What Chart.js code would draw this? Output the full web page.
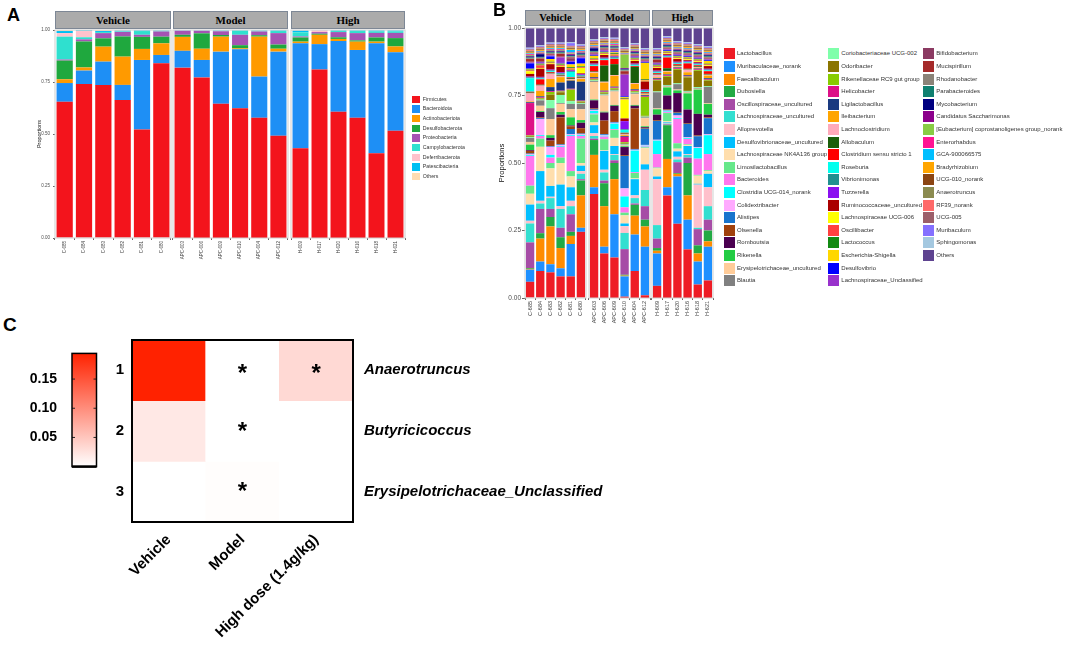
<!DOCTYPE html>
<html>
<head>
<meta charset="utf-8">
<script src="https://cdn.jsdelivr.net/npm/chart.js@4.4.1/dist/chart.umd.min.js"></script>
<style>
  body { margin: 0; background: #fff; }
  #fig { position: relative; width: 1065px; height: 646px; overflow: hidden; font-family: "Liberation Sans", Arial, sans-serif; }
  .box { position: absolute; }
  .strip { position: absolute; background: #ababab; border: 1px solid #7d8795; box-sizing: border-box;
           font-family: "Liberation Serif", serif; font-weight: bold; text-align: center; color: #000; }
  .letter { position: absolute; font-weight: bold; font-size: 18px; color: #000; }
  .leg { position: absolute; white-space: nowrap; color: #333; }
  .sw { position: absolute; }
</style>
</head>
<body>
<div id="fig"></div>
<script>
// ---------- shared sample labels ----------
const groups = ['Vehicle', 'Model', 'High'];
const samples = ['C-685', 'C-684', 'C-683', 'C-682', 'C-681', 'C-680',
                 'APC-603', 'APC-606', 'APC-609', 'APC-610', 'APC-604', 'APC-612',
                 'H-609', 'H-617', 'H-620', 'H-616', 'H-618', 'H-621'];
const yTicks = [0, 0.25, 0.5, 0.75, 1];

// ---------- panel A: phylum proportions ----------
const phyla = ['Firmicutes', 'Bacteroidota', 'Actinobacteriota', 'Desulfobacterota', 'Proteobacteria',
               'Campylobacterota', 'Deferribacterota', 'Patescibacteria', 'Others'];
const phylaColors = ['#f3141c', '#1e8ff5', '#ff9a00', '#1fa83e', '#a553b3', '#2fe0cf', '#ffc2cc', '#00bff2', '#ffdcb2'];
const firmicutes       = [.655, .74, .735, .663, .522, .84, .819, .772, .646, .624, .578, .492, .431, .81, .607, .578, .407, .516];
const bacteroidota     = [.09, .065, .113, .073, .334, .04, .081, .084, .25, .283, .198, .404, .505, .122, .34, .326, .529, .377];
const actinobacteriota = [.018, .015, .072, .136, .053, .056, .067, .054, .072, .005, .192, .014, .008, .045, .01, .04, .008, .028];
const desulfobacterota = [.09, .125, .04, .097, .058, .032, .01, .074, .008, .015, .007, .02, .02, .005, .008, .006, .02, .04];
const proteobacteria   = [.005, .01, .025, .022, .01, .025, .02, .013, .018, .05, .018, .055, .005, .008, .025, .035, .022, .025];
const campylobacterota = [.11, .01, .005, .003, .018, .003, 0, .001, .002, .02, .003, .01, .02, 0, .005, .01, .008, .008];
const deferribacterota = [.017, .03, 0, 0, 0, 0, 0, 0, 0, 0, 0, 0, 0, .008, 0, 0, 0, 0];
const patescibacteria  = [.01, .003, .005, .003, .003, .002, .002, .001, .002, .002, .002, .003, .008, .001, .003, .003, .004, .004];
const othersPhylum     = [.005, .002, .005, .003, .002, .002, .001, .001, .002, .001, .002, .002, .003, .001, .002, .002, .002, .002];
const phylaValues = [firmicutes, bacteroidota, actinobacteriota, desulfobacterota, proteobacteria,
                     campylobacterota, deferribacterota, patescibacteria, othersPhylum];

// ---------- panel B: genus proportions ----------
const genera = ['Lactobacillus', 'Muribaculaceae_norank', 'Faecalibaculum', 'Dubosiella', 'Oscillospiraceae_uncultured',
  'Lachnospiraceae_uncultured', 'Alloprevotella', 'Desulfovibrionaceae_uncultured', 'Lachnospiraceae NK4A136 group',
  'Limosilactobacillus', 'Bacteroides', 'Clostridia UCG-014_norank', 'Colidextribacter', 'Alistipes', 'Olsenella',
  'Romboutsia', 'Rikenella', 'Erysipelotrichaceae_uncultured', 'Blautia',
  'Coriobacteriaceae UCG-002', 'Odoribacter', 'Rikenellaceae RC9 gut group', 'Helicobacter', 'Ligilactobacillus',
  'Ileibacterium', 'Lachnoclostridium', 'Allobaculum', 'Clostridium sensu stricto 1', 'Roseburia', 'Vibrionimonas',
  'Tuzzerella', 'Ruminococcaceae_uncultured', 'Lachnospiraceae UCG-006', 'Oscillibacter', 'Lactococcus',
  'Escherichia-Shigella', 'Desulfovibrio', 'Lachnospiraceae_Unclassified',
  'Bifidobacterium', 'Mucispirillum', 'Rhodanobacter', 'Parabacteroides', 'Mycobacterium', 'Candidatus Saccharimonas',
  '[Eubacterium] coprostanoligenes group_norank', 'Enterorhabdus', 'GCA-900066575', 'Bradyrhizobium', 'UCG-010_norank',
  'Anaerotruncus', 'RF39_norank', 'UCG-005', 'Muribaculum', 'Sphingomonas', 'Others'];
const generaColors = ['#ee1c25', '#1e90ff', '#ff8c00', '#22aa44', '#a64ca6', '#33dfd0', '#ffc0cb', '#00bfff', '#ffdead',
  '#66e88a', '#ff77ee', '#00ffff', '#ffaaff', '#1874cd', '#a0410d', '#4b0050', '#22cc44', '#ffcc99', '#808080',
  '#7fffaa', '#8b7500', '#88cc00', '#dd1188', '#1a3a80', '#ffa500', '#ffaabb', '#1a5e0a', '#ff0000', '#00ffee',
  '#209090', '#8a10f0', '#aa0000', '#ffff00', '#ff4040', '#128a12', '#ffd700', '#0000ff', '#9932cc',
  '#8b3a62', '#a52a2a', '#8b8378', '#0f8070', '#000080', '#8b008b', '#88cc44', '#ff1493', '#00bfff', '#ffa500',
  '#8b4513', '#8b8b50', '#ff6a6a', '#9c5f6a', '#8470ff', '#a4c8e0', '#5e4390'];

const lactobacillus        = [.06, .10, .095, .08, .08, .245, .385, .165, .15, .005, .10, .01, .045, .38, .275, .18, .05, .065];
const muribaculaceaeNorank = [.045, .035, .03, .03, .12, .015, .025, .025, .16, .075, .135, .18, .12, .03, .175, .11, .085, .125];
const faecalibaculum       = [.003, .085, .14, .075, .03, .12, .12, .15, .13, .003, .07, .075, .01, .105, .01, .09, .03, .02];
const dubosiella           = [.003, .02, .035, .04, .015, .055, .055, .085, .06, .003, .04, .025, .01, .125, .003, .12, .03, .04];
const oscillospiraceaeUnc  = [.095, .09, .03, .035, .065, .005, .005, .01, .01, .095, .005, .05, .035, .003, .04, .02, .06, .04];
const lachnospiraceaeUnc   = [.07, .02, .04, .07, .03, .02, .01, .03, .02, .06, .02, .06, .05, .003, .01, .01, .005, .05];
const alloprevotella       = [.01, .01, .005, .01, .02, .01, .01, .01, .003, .025, .01, .075, .17, .003, .01, .003, .16, .07];
const desulfovibrionaceae  = [.06, .11, .04, .08, .05, .02, .03, .07, .03, .01, .06, .02, .01, .003, .02, .03, .003, .05];
const nk4a136              = [.04, .09, .065, .08, .04, .01, .01, .003, .03, .03, .003, .06, .03, .003, .01, .003, .03, .01];
const limosilactobacillus  = [.03, .03, .02, .02, .02, .09, .03, .04, .03, .01, .02, .003, .003, .03, .02, .003, .003, .003];
const bacteroides          = [.11, .01, .02, .04, .13, .01, .003, .01, .003, .02, .003, .003, .05, .003, .09, .02, .06, .06];
const clostridiaUcg014     = [.003, .003, .01, .003, .003, .003, .01, .003, .02, .04, .08, .003, .05, .003, .003, .003, .04, .07];
const colidextribacter     = [.003, .06, .03, .003, .003, .003, .003, .003, .003, .03, .003, .003, .003, .003, .01, .003, .003, .003];
const alistipes            = [.003, .003, .003, .003, .02, .003, .003, .003, .003, .12, .003, .06, .07, .003, .01, .05, .04, .06];
const olsenella            = [.01, .003, .02, .10, .01, .02, .003, .05, .04, .003, .15, .003, .003, .003, .003, .003, .003, .003];
const romboutsia           = [.003, .02, .01, .01, .003, .02, .03, .03, .02, .03, .01, .003, .02, .05, .07, .05, .08, .01];
const rikenella            = [.02, .003, .01, .01, .03, .01, .003, .003, .003, .003, .003, .003, .02, .03, .01, .06, .09, .04];
const erysipelotrichUnc    = [.01, .02, .06, .03, .03, .04, .065, .06, .05, .003, .04, .03, .003, .003, .003, .003, .003, .003];
const blautia              = [.015, .02, .04, .003, .02, .02, .003, .003, .003, .003, .003, .003, .06, .003, .02, .003, .003, .06];
const coriobacteriaceae    = [.003, .003, .03, .03, .01, .003, .003, .003, .003, .003, .003, .003, .003, .003, .003, .003, .003, .003];
const odoribacter          = [.003, .003, .02, .01, .003, .003, .003, .003, .003, .003, .003, .003, .04, .03, .05, .05, .06, .02];
const rikenellaceaeRc9     = [.003, .003, .01, .003, .04, .003, .003, .003, .003, .003, .003, .07, .003, .003, .003, .003, .003, .003];
const helicobacter         = [.12, .003, .003, .003, .003, .003, .003, .003, .003, .02, .003, .003, .003, .003, .003, .003, .003, .003];
const ligilactobacillus    = [.003, .003, .015, .03, .03, .07, .003, .003, .003, .003, .003, .003, .003, .003, .003, .003, .003, .003];
const ileibacterium        = [.003, .02, .03, .02, .003, .01, .015, .03, .04, .003, .02, .003, .003, .01, .003, .01, .003, .01];
const lachnoclostridium    = [.03, .02, .02, .003, .003, .003, .003, .003, .003, .003, .003, .003, .01, .003, .003, .01, .003, .003];
const allobaculum          = [.003, .003, .003, .003, .003, .003, .003, .06, .04, .003, .06, .003, .003, .01, .003, .003, .003, .003];
const clostridiumSS1       = [.003, .02, .003, .003, .003, .003, .02, .02, .02, .003, .003, .003, .003, .04, .003, .02, .003, .01];
const roseburia            = [.05, .003, .003, .003, .02, .003, .003, .003, .003, .01, .003, .003, .003, .003, .003, .003, .003, .003];
const vibrionimonas        = [.003, .003, .003, .003, .003, .003, .003, .003, .003, .003, .003, .003, .003, .003, .003, .003, .003, .003];
const tuzzerella           = [.003, .003, .003, .003, .003, .003, .003, .003, .003, .03, .003, .003, .003, .003, .003, .003, .003, .003];
const ruminococcaceaeUnc   = [.01, .03, .02, .02, .003, .003, .01, .01, .003, .01, .01, .03, .01, .003, .01, .003, .003, .01];
const lachnoUcg006         = [.01, .003, .003, .003, .003, .02, .003, .003, .003, .07, .003, .003, .003, .003, .003, .003, .003, .003];
const oscillibacter        = [.003, .01, .003, .003, .003, .003, .003, .003, .003, .003, .003, .003, .003, .003, .003, .003, .003, .003];
const lactococcus          = [.003, .003, .003, .003, .003, .003, .003, .003, .003, .003, .003, .003, .003, .003, .003, .003, .003, .003];
const escherichia          = [.003, .003, .01, .003, .01, .01, .01, .003, .003, .003, .003, .06, .003, .003, .003, .003, .003, .01];
const desulfovibrio        = [.02, .003, .01, .003, .01, .02, .003, .003, .003, .003, .003, .003, .003, .003, .003, .003, .003, .003];
const lachnoUnclassified   = [.003, .003, .003, .02, .003, .003, .003, .003, .003, .08, .003, .003, .003, .003, .003, .003, .003, .003];
const bifidobacterium      = [.003, .003, .003, .003, .01, .003, .003, .003, .003, .003, .003, .003, .003, .003, .003, .003, .003, .003];
const mucispirillum        = [.01, .01, .003, .01, .003, .003, .003, .003, .003, .01, .003, .003, .01, .003, .003, .003, .003, .003];
const rhodanobacter        = [.003, .003, .003, .003, .003, .003, .003, .003, .003, .003, .003, .003, .003, .003, .003, .003, .003, .003];
const parabacteroides      = [.003, .003, .003, .003, .003, .003, .003, .003, .003, .003, .003, .003, .003, .003, .003, .003, .003, .003];
const mycobacterium        = [.003, .01, .003, .003, .003, .003, .01, .003, .003, .003, .003, .003, .003, .003, .003, .003, .003, .003];
const saccharimonas        = [.003, .003, .003, .003, .003, .003, .003, .003, .003, .003, .003, .003, .003, .003, .003, .003, .003, .003];
const eubacteriumCopro     = [.003, .003, .003, .003, .003, .003, .003, .003, .003, .05, .003, .003, .003, .003, .003, .003, .003, .003];
const enterorhabdus        = [.003, .003, .003, .003, .003, .003, .003, .003, .003, .003, .003, .003, .003, .003, .003, .003, .003, .003];
const gca900066575         = [.003, .003, .003, .003, .01, .003, .003, .003, .003, .003, .003, .003, .003, .003, .003, .003, .003, .003];
const bradyrhizobium       = [.003, .003, .003, .003, .003, .003, .003, .003, .003, .003, .003, .003, .003, .003, .003, .003, .003, .003];
const ucg010               = [.003, .003, .003, .003, .003, .003, .003, .003, .003, .003, .003, .003, .003, .003, .003, .003, .003, .003];
const anaerotruncus        = [.003, .003, .003, .003, .003, .003, .003, .003, .003, .003, .003, .003, .003, .003, .003, .003, .003, .003];
const rf39                 = [.003, .003, .003, .003, .003, .003, .003, .003, .003, .003, .003, .003, .003, .003, .003, .003, .003, .003];
const ucg005               = [.003, .003, .003, .003, .003, .003, .003, .003, .003, .003, .003, .003, .003, .003, .003, .003, .003, .003];
const muribaculum          = [.003, .003, .003, .003, .01, .003, .003, .003, .003, .003, .003, .003, .003, .003, .003, .003, .003, .003];
const sphingomonas         = [.003, .003, .003, .003, .003, .003, .003, .003, .003, .003, .003, .003, .003, .003, .003, .003, .003, .003];
const othersGenus          = [.073, .064, .054, .054, .053, .061, .042, .034, .036, .071, .056, .075, .075, .031, .049, .053, .06, .068];
const generaValues = [lactobacillus, muribaculaceaeNorank, faecalibaculum, dubosiella, oscillospiraceaeUnc,
  lachnospiraceaeUnc, alloprevotella, desulfovibrionaceae, nk4a136, limosilactobacillus, bacteroides, clostridiaUcg014,
  colidextribacter, alistipes, olsenella, romboutsia, rikenella, erysipelotrichUnc, blautia,
  coriobacteriaceae, odoribacter, rikenellaceaeRc9, helicobacter, ligilactobacillus, ileibacterium, lachnoclostridium,
  allobaculum, clostridiumSS1, roseburia, vibrionimonas, tuzzerella, ruminococcaceaeUnc, lachnoUcg006, oscillibacter,
  lactococcus, escherichia, desulfovibrio, lachnoUnclassified,
  bifidobacterium, mucispirillum, rhodanobacter, parabacteroides, mycobacterium, saccharimonas, eubacteriumCopro,
  enterorhabdus, gca900066575, bradyrhizobium, ucg010, anaerotruncus, rf39, ucg005, muribaculum, sphingomonas, othersGenus];

// ---------- panel C: heatmap ----------
const heatGroups = ['Vehicle', 'Model', 'High dose (1.4g/kg)'];
const heatRows = ['1', '2', '3'];
const heatTaxa = ['Anaerotruncus', 'Butyricicoccus', 'Erysipelotrichaceae_Unclassified'];
const anaerotruncusHeat  = [0.194, 0.0, 0.033];
const butyricicoccusHeat = [0.02, 0.0, 0.0];
const erysipelotrichHeat = [0.0, 0.002, 0.0];
const heatValues = [anaerotruncusHeat, butyricicoccusHeat, erysipelotrichHeat];
const heatStars = [['', '*', '*'], ['', '*', ''], ['', '*', '']];
const cbarMax = 0.194;
const cbarTicks = [0.05, 0.10, 0.15];

Chart.defaults.font.family = '"Liberation Sans", Arial, sans-serif';
Chart.defaults.animation = false;
const fig = document.getElementById('fig');

function addBox(left, top, w, h) {
  const div = document.createElement('div');
  div.className = 'box';
  div.style.left = left + 'px'; div.style.top = top + 'px';
  div.style.width = w + 'px'; div.style.height = h + 'px';
  fig.appendChild(div);
  const cv = document.createElement('canvas');
  div.appendChild(cv);
  return cv;
}

function addText(cls, text, css) {
  const d = document.createElement('div');
  d.className = cls;
  d.textContent = text;
  Object.assign(d.style, css);
  fig.appendChild(d);
  return d;
}

const panelFrame = {
  id: 'panelFrame',
  afterDatasetsDraw(chart) {
    const a = chart.chartArea, ctx = chart.ctx;
    ctx.save();
    ctx.strokeStyle = '#cfcfcf';
    ctx.lineWidth = 1;
    ctx.strokeRect(a.left, a.top, a.width, a.height);
    ctx.restore();
  }
};

// ---------- facetted stacked bars (A and B) ----------
const M = 8;
function facetPanel(p) {
  p.facetX.forEach(([x0, x1], gi) => {
    const showY = gi === 0;
    const yw = showY ? p.yw : 0;
    const w = x1 - x0, h = p.bottom - p.top;
    const cv = addBox(x0 - yw - M, p.top - M, w + yw + 2 * M, h + p.xh + M);
    const from = gi * 6, to = gi * 6 + 6;
    new Chart(cv, {
      type: 'bar',
      data: {
        labels: samples.slice(from, to),
        datasets: p.values.map((vals, i) => ({
          label: p.names[i],
          data: vals.slice(from, to),
          backgroundColor: p.colors[i],
          borderWidth: 0,
          barPercentage: p.barPct,
          categoryPercentage: 1
        }))
      },
      options: {
        responsive: true,
        maintainAspectRatio: false,
        layout: { padding: { left: M, right: M, top: M, bottom: 0 } },
        plugins: { legend: { display: false }, tooltip: { enabled: false } },
        scales: {
          x: {
            stacked: true,
            grid: { drawOnChartArea: false, tickLength: 2, color: '#666' },
            border: { display: false },
            ticks: { autoSkip: false, minRotation: 90, maxRotation: 90, padding: 1,
                     font: { size: p.xFont }, color: '#444' },
            afterFit(s) { s.height = p.xh; }
          },
          y: {
            stacked: true, min: 0, max: 1, display: showY,
            afterBuildTicks(s) { s.ticks = yTicks.map(v => ({ value: v })); },
            grid: { drawOnChartArea: false, tickLength: p.tickLen, color: '#666' },
            border: { display: false },
            ticks: { callback: v => v.toFixed(2), font: { size: p.yFont }, color: '#4d4d4d', padding: p.yPad },
            title: { display: true, text: 'Proportions', font: { size: p.titleFont }, color: '#111', padding: 0 },
            afterFit(s) { s.width = yw; }
          }
        }
      },
      plugins: [panelFrame]
    });
    addText('strip', groups[gi], {
      left: x0 + 'px', top: p.stripTop + 'px', width: w + 'px', height: p.stripH + 'px',
      lineHeight: (p.stripH - 2) + 'px', fontSize: p.stripFont + 'px'
    });
  });
}

facetPanel({
  facetX: [[55, 171], [173, 288], [291, 405]], top: 30, bottom: 238, xh: 30, yw: 19, yPad: 3, tickLen: 2,
  barPct: 0.84, xFont: 4.5, yFont: 4.5, titleFont: 5.5, stripTop: 11, stripH: 18, stripFont: 11,
  values: phylaValues, names: phyla, colors: phylaColors
});
facetPanel({
  facetX: [[525, 586], [589, 650], [652, 713]], top: 28, bottom: 298, xh: 34, yw: 28, yPad: 1, tickLen: 3,
  barPct: 0.82, xFont: 5.5, yFont: 6.5, titleFont: 7.5, stripTop: 10, stripH: 16, stripFont: 10.5,
  values: generaValues, names: genera, colors: generaColors
});

// ---------- legends ----------
function legend(names, colors, x, y, step, sw, font, gap) {
  names.forEach((n, i) => {
    const s = document.createElement('div');
    s.className = 'sw';
    Object.assign(s.style, { left: x + 'px', top: (y + i * step) + 'px', width: sw + 'px', height: sw + 'px', background: colors[i] });
    fig.appendChild(s);
    addText('leg', n, { left: (x + gap) + 'px', top: (y + i * step) + 'px', height: sw + 'px',
                        lineHeight: sw + 'px', fontSize: font + 'px' });
  });
}
legend(phyla, phylaColors, 412.3, 95.7, 9.67, 7.3, 5.2, 10.5);
const colStarts = [0, 19, 38, 55];
const colX = [724, 828.3, 923.3];
for (let c = 0; c < 3; c++) {
  legend(genera.slice(colStarts[c], colStarts[c + 1]), generaColors.slice(colStarts[c], colStarts[c + 1]),
         colX[c], 48.3, 12.6, 11, 6, 13);
}

// ---------- panel letters ----------
addText('letter', 'A', { left: '7px', top: '5px' });
addText('letter', 'B', { left: '493px', top: '0px' });
addText('letter', 'C', { left: '3px', top: '314px', fontSize: '19px' });

// ---------- heatmap (C) ----------
function heatColor(v) {
  const t = Math.max(0, Math.min(1, v / cbarMax));
  const g = Math.round(255 - (255 - 34) * t), b = Math.round(255 - 255 * t);
  return `rgb(255,${g},${b})`;
}

const heatDecor = {
  id: 'heatDecor',
  afterDatasetsDraw(chart) {
    const { ctx, chartArea: a } = chart;
    const x = chart.scales.x, y = chart.scales.y;
    ctx.save();
    ctx.font = 'bold 24px "Liberation Sans"';
    ctx.fillStyle = '#000';
    ctx.textAlign = 'center';
    ctx.textBaseline = 'middle';
    heatStars.forEach((row, ri) => row.forEach((s, ci) => {
      if (s) ctx.fillText(s, x.getPixelForValue(ci), y.getPixelForValue(ri + 0.5) + (ri === 0 ? 4 : 1));
    }));
    ctx.strokeStyle = '#000';
    ctx.lineWidth = 2;
    ctx.strokeRect(a.left, a.top, a.width, a.height);
    ctx.restore();
  }
};

{
  const top = 320, w = 640, h = 326;
  const boxTop = 339, boxBottom = 522, boxLeft = 132, boxRight = 353;
  const cv = addBox(0, top, w, h);
  new Chart(cv, {
    type: 'bar',
    data: {
      labels: heatGroups,
      datasets: heatValues.map((vals, ri) => ({
        label: heatTaxa[ri],
        data: heatGroups.map(() => [ri, ri + 1]),
        backgroundColor: vals.map(heatColor),
        borderWidth: 0,
        barPercentage: 1,
        categoryPercentage: 1,
        grouped: false
      }))
    },
    options: {
      responsive: true,
      maintainAspectRatio: false,
      layout: { padding: { left: boxLeft - 40, right: w - boxRight - 260, top: boxTop - top, bottom: 0 } },
      plugins: { legend: { display: false }, tooltip: { enabled: false } },
      scales: {
        x: {
          grid: { display: false, drawTicks: false }, border: { display: false },
          ticks: { autoSkip: false, minRotation: 45, maxRotation: 45, padding: 9,
                   font: { weight: 'bold', size: 15 }, color: '#000' },
          afterFit(s) { s.height = top + h - boxBottom; }
        },
        y: { min: 0, max: 3, reverse: true, display: false },
        yl: {
          type: 'category', labels: heatRows, position: 'left', offset: true,
          grid: { display: false, drawTicks: false }, border: { display: false },
          ticks: { font: { weight: 'bold', size: 15 }, color: '#000', padding: 8 },
          afterFit(s) { s.width = 40; }
        },
        yr: {
          type: 'category', labels: heatTaxa, position: 'right', offset: true,
          grid: { display: false, drawTicks: false }, border: { display: false },
          ticks: { font: { weight: 'bold', style: 'italic', size: 15 }, color: '#000', padding: 11 },
          afterFit(s) { s.width = 260; }
        }
      }
    },
    plugins: [heatDecor]
  });
}

// ---------- colour bar ----------
const cbarDecor = {
  id: 'cbarDecor',
  afterDatasetsDraw(chart) {
    const { ctx, chartArea: a } = chart;
    const y = chart.scales.y;
    ctx.save();
    ctx.strokeStyle = '#222';
    ctx.lineWidth = 1;
    cbarTicks.forEach(v => {
      const py = y.getPixelForValue(v);
      ctx.beginPath();
      ctx.moveTo(a.left, py); ctx.lineTo(a.left + 3, py);
      ctx.moveTo(a.right - 3, py); ctx.lineTo(a.right, py);
      ctx.stroke();
    });
    ctx.lineWidth = 1.5;
    ctx.strokeStyle = '#000';
    ctx.strokeRect(a.left, a.top, a.width, a.height);
    ctx.lineWidth = 2.5;
    ctx.beginPath(); ctx.moveTo(a.left, a.bottom); ctx.lineTo(a.right, a.bottom); ctx.stroke();
    ctx.restore();
  }
};

{
  const top = 330, h = 160;
  const cv = addBox(0, top, 120, h);
  new Chart(cv, {
    type: 'bar',
    data: {
      labels: [''],
      datasets: [{
        data: [cbarMax],
        borderWidth: 0,
        barPercentage: 1,
        categoryPercentage: 1,
        backgroundColor(ctx) {
          const a = ctx.chart.chartArea;
          if (!a) return heatColor(cbarMax);
          const g = ctx.chart.ctx.createLinearGradient(0, a.bottom, 0, a.top);
          g.addColorStop(0, heatColor(0));
          g.addColorStop(1, heatColor(cbarMax));
          return g;
        }
      }]
    },
    options: {
      responsive: true,
      maintainAspectRatio: false,
      layout: { padding: { left: 0, right: 120 - 96.5, top: 343.3 - top, bottom: top + h - 472.3 } },
      plugins: { legend: { display: false }, tooltip: { enabled: false } },
      scales: {
        x: { display: false },
        y: {
          min: 0, max: cbarMax,
          afterBuildTicks(s) { s.ticks = cbarTicks.map(v => ({ value: v })); },
          grid: { display: false, drawTicks: false }, border: { display: false },
          ticks: { callback: v => v.toFixed(2), font: { weight: 'bold', size: 14 }, color: '#000', padding: 15 },
          afterFit(s) { s.width = 72; }
        }
      }
    },
    plugins: [cbarDecor]
  });
}
</script>
</body>
</html>
